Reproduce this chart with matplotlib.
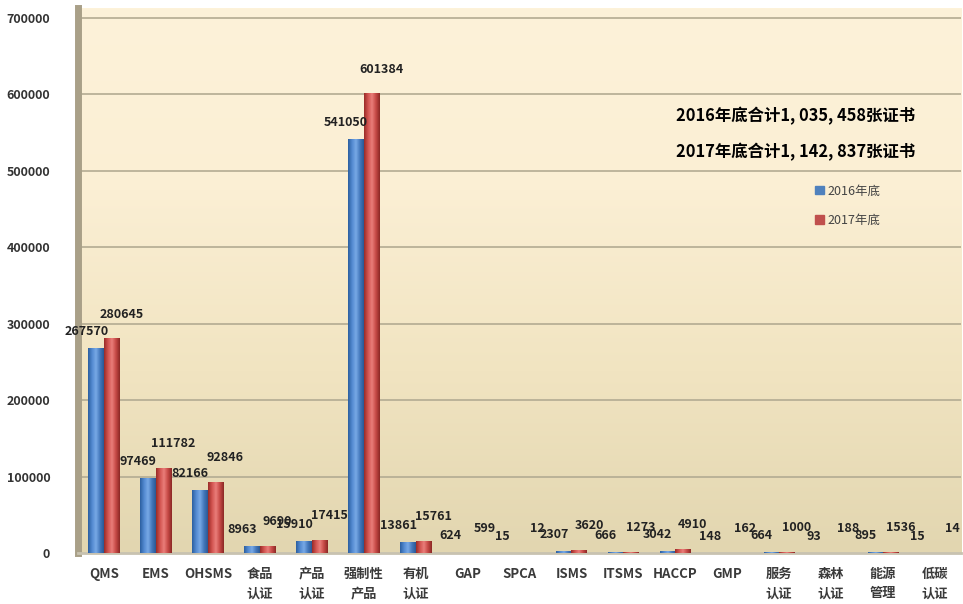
import numpy as np
import matplotlib
matplotlib.use("Agg")
import matplotlib.pyplot as plt
from matplotlib.colors import LinearSegmentedColormap
from matplotlib.patches import Patch

plt.rcParams['font.family'] = ['Noto Sans CJK SC', 'DejaVu Sans']

categories = ['QMS', 'EMS', 'OHSMS', '食品\n认证', '产品\n认证', '强制性\n产品', '有机\n认证',
              'GAP', 'SPCA', 'ISMS', 'ITSMS', 'HACCP', 'GMP', '服务\n认证', '森林\n认证',
              '能源\n管理', '低碳\n认证']
y2016 = [267570, 97469, 82166, 8963, 15910, 541050, 13861, 624, 15, 2307, 666,
         3042, 148, 664, 93, 895, 15]
y2017 = [280645, 111782, 92846, 9690, 17415, 601384, 15761, 599, 12, 3620, 1273,
         4910, 162, 1000, 188, 1536, 14]
series = ['2016年底', '2017年底']
totals = ['2016年底合计1, 035, 458张证书', '2017年底合计1, 142, 837张证书']
yticks = [0, 100000, 200000, 300000, 400000, 500000, 600000, 700000]

fig = plt.figure(figsize=(9.63, 6.04), dpi=100)
ax = fig.add_axes([78 / 963, 51 / 604, 883 / 963, 545 / 604])
ax.set_xlim(-0.5, len(categories) - 0.5)
ax.set_ylim(0, 713000)

# wall gradient
wall = LinearSegmentedColormap.from_list('wall', ['#e2d6b0', '#f1e4c1', '#fbefd4', '#fdf2d9'])
grad = np.linspace(0, 1, 256).reshape(-1, 1)
ax.imshow(grad, cmap=wall, aspect='auto', origin='lower',
          extent=[-0.5, len(categories) - 0.5, 0, 713000], zorder=0)

for t in yticks[1:]:
    ax.axhline(t, color='#b3ab92', lw=1.2, zorder=1)

blue = LinearSegmentedColormap.from_list('b', ['#2c5fa0', '#5289d0', '#78a9e6', '#4579bd', '#2a5894'])
red = LinearSegmentedColormap.from_list('r', ['#9a2b28', '#d25450', '#ea7e7a', '#c64a46', '#8c2825'])
hgrad = np.linspace(0, 1, 64).reshape(1, -1)

x = np.arange(len(categories))
w = 0.3
bars1 = ax.bar(x - w / 2, y2016, w, color='#4a7ec2', zorder=2)
bars2 = ax.bar(x + w / 2, y2017, w, color='#c9504c', zorder=2)
for bars, cm in ((bars1, blue), (bars2, red)):
    for b in bars:
        bx, by = b.get_x(), b.get_y()
        im = ax.imshow(hgrad, cmap=cm, aspect='auto',
                       extent=[bx, bx + b.get_width(), by, by + b.get_height()], zorder=3)
        im.set_clip_path(b)

for b, v in zip(bars1, y2016):
    ax.annotate(str(v), (b.get_x() + b.get_width() / 2, v), xytext=(-7, 12),
                textcoords='offset points', ha='center', va='center', fontsize=9,
                fontweight='bold', color='#222222', zorder=5)
for b, v in zip(bars2, y2017):
    ax.annotate(str(v), (b.get_x() + b.get_width() / 2, v), xytext=(7, 17.5),
                textcoords='offset points', ha='center', va='center', fontsize=9,
                fontweight='bold', color='#222222', zorder=5)

ax.set_yticks(yticks)
ax.set_yticklabels([str(t) for t in yticks], fontsize=9, color='#333333', fontweight='bold')
ax.set_xticks(x)
ax.set_xticklabels(categories, fontsize=9.5, color='#3a3a3a', fontweight='bold', linespacing=1.5, va='top')
ax.tick_params(axis='both', length=0)
ax.tick_params(axis='x', pad=10)
ax.tick_params(axis='y', pad=20)

for s in ['top', 'right']:
    ax.spines[s].set_visible(False)
ax.spines['left'].set_color('#a9a088')
ax.spines['left'].set_linewidth(5)
ax.spines['bottom'].set_color('#c8c2b0')
ax.spines['bottom'].set_linewidth(2)

ax.text(0.948, 0.802, totals[0], transform=ax.transAxes, ha='right', va='center',
        fontsize=11.8, fontweight='bold', color='black')
ax.text(0.948, 0.736, totals[1], transform=ax.transAxes, ha='right', va='center',
        fontsize=11.8, fontweight='bold', color='black')

handles = [Patch(color='#4f81bd'), Patch(color='#c0504d')]
ax.legend(handles, series, loc='upper left', bbox_to_anchor=(0.822, 0.697), frameon=False,
          fontsize=9, handlelength=0.7, handleheight=0.7, handletextpad=0.3,
          labelspacing=1.3, labelcolor='#444444')

fig.savefig('out.png', dpi=100, facecolor='white')
